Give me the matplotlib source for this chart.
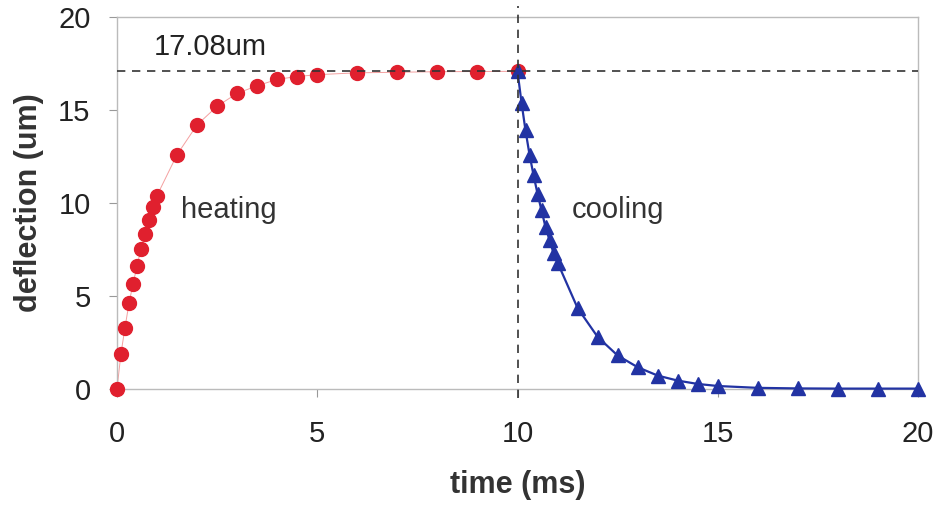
import matplotlib.pyplot as plt
import numpy as np

plt.rcParams['font.family'] = ['Liberation Sans', 'DejaVu Sans']

# heating data
t_heat = [0, 0.1, 0.2, 0.3, 0.4, 0.5, 0.6, 0.7, 0.8, 0.9, 1.0,
          1.5, 2.0, 2.5, 3.0, 3.5, 4.0, 4.5, 5.0, 6, 7, 8, 9, 10]
d_heat = [0, 1.9, 3.3, 4.6, 5.65, 6.6, 7.55, 8.35, 9.1, 9.8, 10.4,
          12.6, 14.2, 15.2, 15.9, 16.3, 16.65, 16.8, 16.9, 17.0, 17.03, 17.06, 17.07, 17.08]

# cooling data
t_cool = [10, 10.1, 10.2, 10.3, 10.4, 10.5, 10.6, 10.7, 10.8, 10.9, 11.0,
          11.5, 12.0, 12.5, 13.0, 13.5, 14.0, 14.5, 15, 16, 17, 18, 19, 20]
d_cool = [17.08, 15.4, 13.9, 12.6, 11.5, 10.5, 9.6, 8.7, 8.0, 7.3, 6.8,
          4.35, 2.8, 1.8, 1.17, 0.72, 0.45, 0.27, 0.16, 0.06, 0.03, 0.02, 0.02, 0.02]

peak = 17.08

fig = plt.figure(figsize=(9.41, 5.08), dpi=100)
ax = fig.add_axes([0.1243, 0.2343, 0.8513, 0.7322])

red = '#e0202e'
blue = '#2233a3'

ax.plot(t_heat, d_heat, color='#f4a0a0', lw=0.7, zorder=2, clip_on=False)
ax.plot(t_heat, d_heat, 'o', color=red, ms=10, mec=red, zorder=3, clip_on=False)
ax.plot(t_cool, d_cool, '-^', color=blue, lw=1.6, ms=10, zorder=4, clip_on=False)

ax.axhline(peak, color='#333333', lw=1.2, ls=(0, (5, 4)), zorder=5)
ax.plot([10, 10], [-0.5, 20.6], color='#333333', lw=1.2, ls=(0, (5, 4)),
        zorder=5, clip_on=False)

ax.text(2.33, 18.4, '17.08um', fontsize=21, color='#222222', ha='center', va='center')
ax.text(2.8, 9.6, 'heating', fontsize=21, color='#333333', ha='center', va='center')
ax.text(12.5, 9.6, 'cooling', fontsize=21, color='#333333', ha='center', va='center')

ax.set_xlim(0, 20)
ax.set_ylim(0, 20)
ax.set_xticks([0, 5, 10, 15, 20])
ax.set_yticks([0, 5, 10, 15, 20])
for s in ax.spines.values():
    s.set_color('#bbbbbb')
    s.set_linewidth(1.0)
ax.tick_params(direction='out', length=6, color='#999999', labelsize=21,
               labelcolor='#222222')
ax.tick_params(axis='x', pad=16)
ax.tick_params(axis='y', pad=13)
ax.set_xlabel('time (ms)', fontsize=22, fontweight='bold', color='#333333', labelpad=16)
ax.set_ylabel('deflection (um)', fontsize=22, fontweight='bold', color='#333333', labelpad=10)

fig.savefig('out.png', dpi=100)
